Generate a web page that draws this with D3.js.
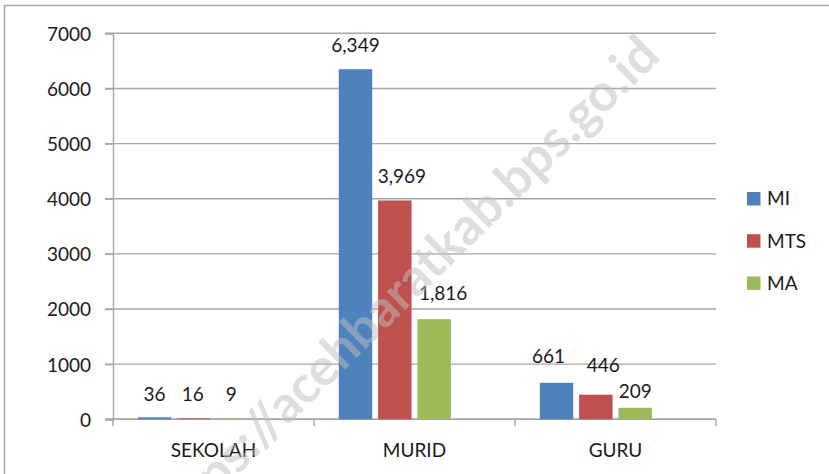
<!DOCTYPE html>
<html>
<head>
<meta charset="utf-8">
<script src="https://cdn.jsdelivr.net/npm/d3@7"></script>
<style>
  html, body { margin: 0; padding: 0; background: #fff; }
  svg { display: block; }
  text { font-family: Lato, "Open Sans", sans-serif; fill: #1a1a1a; }
</style>
</head>
<body>
<svg id="chart" width="829" height="474"></svg>
<script>
// ---- data ----
const categories = ["SEKOLAH", "MURID", "GURU"];
const seriesNames = ["MI", "MTS", "MA"];
const valuesMI  = [36, 6349, 661];
const valuesMTS = [16, 3969, 446];
const valuesMA  = [9, 1816, 209];
const yTicks = [0, 1000, 2000, 3000, 4000, 5000, 6000, 7000];
const watermark = "https://acehbaratkab.bps.go.id";

// ---- styling / layout ----
const colors = {MI: "#4F81BD", MTS: "#C0504D", MA: "#9BBB59"};
// manual label nudges [dx, dy] per series per category (as placed in reference)
const labelNudge = {
  MI:  [[0, 0.7], [0, -0.6], [-8, -2.5]],
  MTS: [[-1, -0.4], [7, 0], [7.5, -6]],
  MA:  [[-2, -0.8], [9, -2.3], [0, 7]]
};

const series = [
  {name: "MI", values: valuesMI},
  {name: "MTS", values: valuesMTS},
  {name: "MA", values: valuesMA}
];

const svg = d3.select("#chart");

// outer border
svg.append("path")
  .attr("d", "M4.5,480 L4.5,5.5 L840,5.5")
  .attr("fill", "none").attr("stroke", "#a6a6a6").attr("stroke-width", 1.5);

const x0 = d3.scaleBand().domain(categories).range([113, 716]).padding(0);
const x1 = d3.scaleBand().domain(seriesNames.concat(["_"]))
  .range([0, x0.bandwidth()]).paddingInner(0.15).paddingOuter(0.63);
const y = d3.scaleLinear().domain([0, 7000]).range([419.3, 33.3]);

// gridlines
svg.append("g").selectAll("line").data(yTicks).join("line")
  .attr("x1", 105).attr("x2", 716)
  .attr("y1", d => y(d)).attr("y2", d => y(d))
  .attr("stroke", "#a6a6a6").attr("stroke-width", 1.4);

// y axis
const yAxis = svg.append("g").attr("transform", "translate(113,0)")
  .call(d3.axisLeft(y).tickValues(yTicks).tickSize(8).tickPadding(14).tickFormat(d3.format("d")));
yAxis.select(".domain").attr("stroke", "#a6a6a6").attr("stroke-width", 1.4);
yAxis.selectAll(".tick line").attr("stroke", "#a6a6a6").attr("stroke-width", 1.4);
yAxis.selectAll(".tick text").attr("font-size", 19).attr("font-family", "Lato").attr("fill", "#1a1a1a").attr("dy", "0.36em");

// x axis baseline and ticks at category boundaries
svg.append("line").attr("x1", 105).attr("x2", 716).attr("y1", y(0)).attr("y2", y(0))
  .attr("stroke", "#a6a6a6").attr("stroke-width", 1.4);
const bounds = categories.map(c => x0(c)).concat([x0(categories[categories.length - 1]) + x0.bandwidth()]);
svg.append("g").selectAll("line").data(bounds).join("line")
  .attr("x1", d => d).attr("x2", d => d)
  .attr("y1", y(0)).attr("y2", y(0) + 7)
  .attr("stroke", "#a6a6a6").attr("stroke-width", 1.4);
svg.append("g").selectAll("text").data(categories).join("text")
  .attr("x", d => x0(d) + x0.bandwidth() / 2)
  .attr("y", 456.5)
  .attr("text-anchor", "middle")
  .attr("font-size", 19)
  .text(d => d);

// bars
const barData = [];
series.forEach(s => s.values.forEach((v, i) => barData.push({s: s.name, c: categories[i], i, v})));
svg.append("g").selectAll("rect").data(barData).join("rect")
  .attr("x", d => x0(d.c) + x1(d.s))
  .attr("width", x1.bandwidth())
  .attr("y", d => y(d.v))
  .attr("height", d => y(0) - y(d.v))
  .attr("fill", d => colors[d.s]);

// value labels
svg.append("g").selectAll("text").data(barData).join("text")
  .attr("x", d => x0(d.c) + x1(d.s) + x1.bandwidth() / 2 + labelNudge[d.s][d.i][0])
  .attr("y", d => y(d.v) - 17 + labelNudge[d.s][d.i][1])
  .attr("text-anchor", "middle")
  .attr("font-size", 19)
  .text(d => d3.format(",")(d.v));

// legend
const leg = svg.append("g").selectAll("g").data(seriesNames).join("g")
  .attr("transform", (d, i) => `translate(747,${192 + i * 42.2})`);
leg.append("rect").attr("width", 13.5).attr("height", 13.5).attr("fill", d => colors[d]);
leg.append("text").attr("x", 20).attr("y", 13.3).attr("font-size", 19).text(d => d);

// watermark
svg.append("g").attr("transform", "translate(662,58) rotate(-44.5)")
  .append("text")
  .attr("x", 0).attr("y", 0)
  .attr("text-anchor", "end")
  .attr("font-family", "Liberation Sans, Arial, sans-serif")
  .attr("font-weight", "bold")
  .attr("font-size", 51.5)
  .style("fill", "#bdbdbd")
  .style("fill-opacity", 0.5)
  .text(watermark);
</script>
</body>
</html>
